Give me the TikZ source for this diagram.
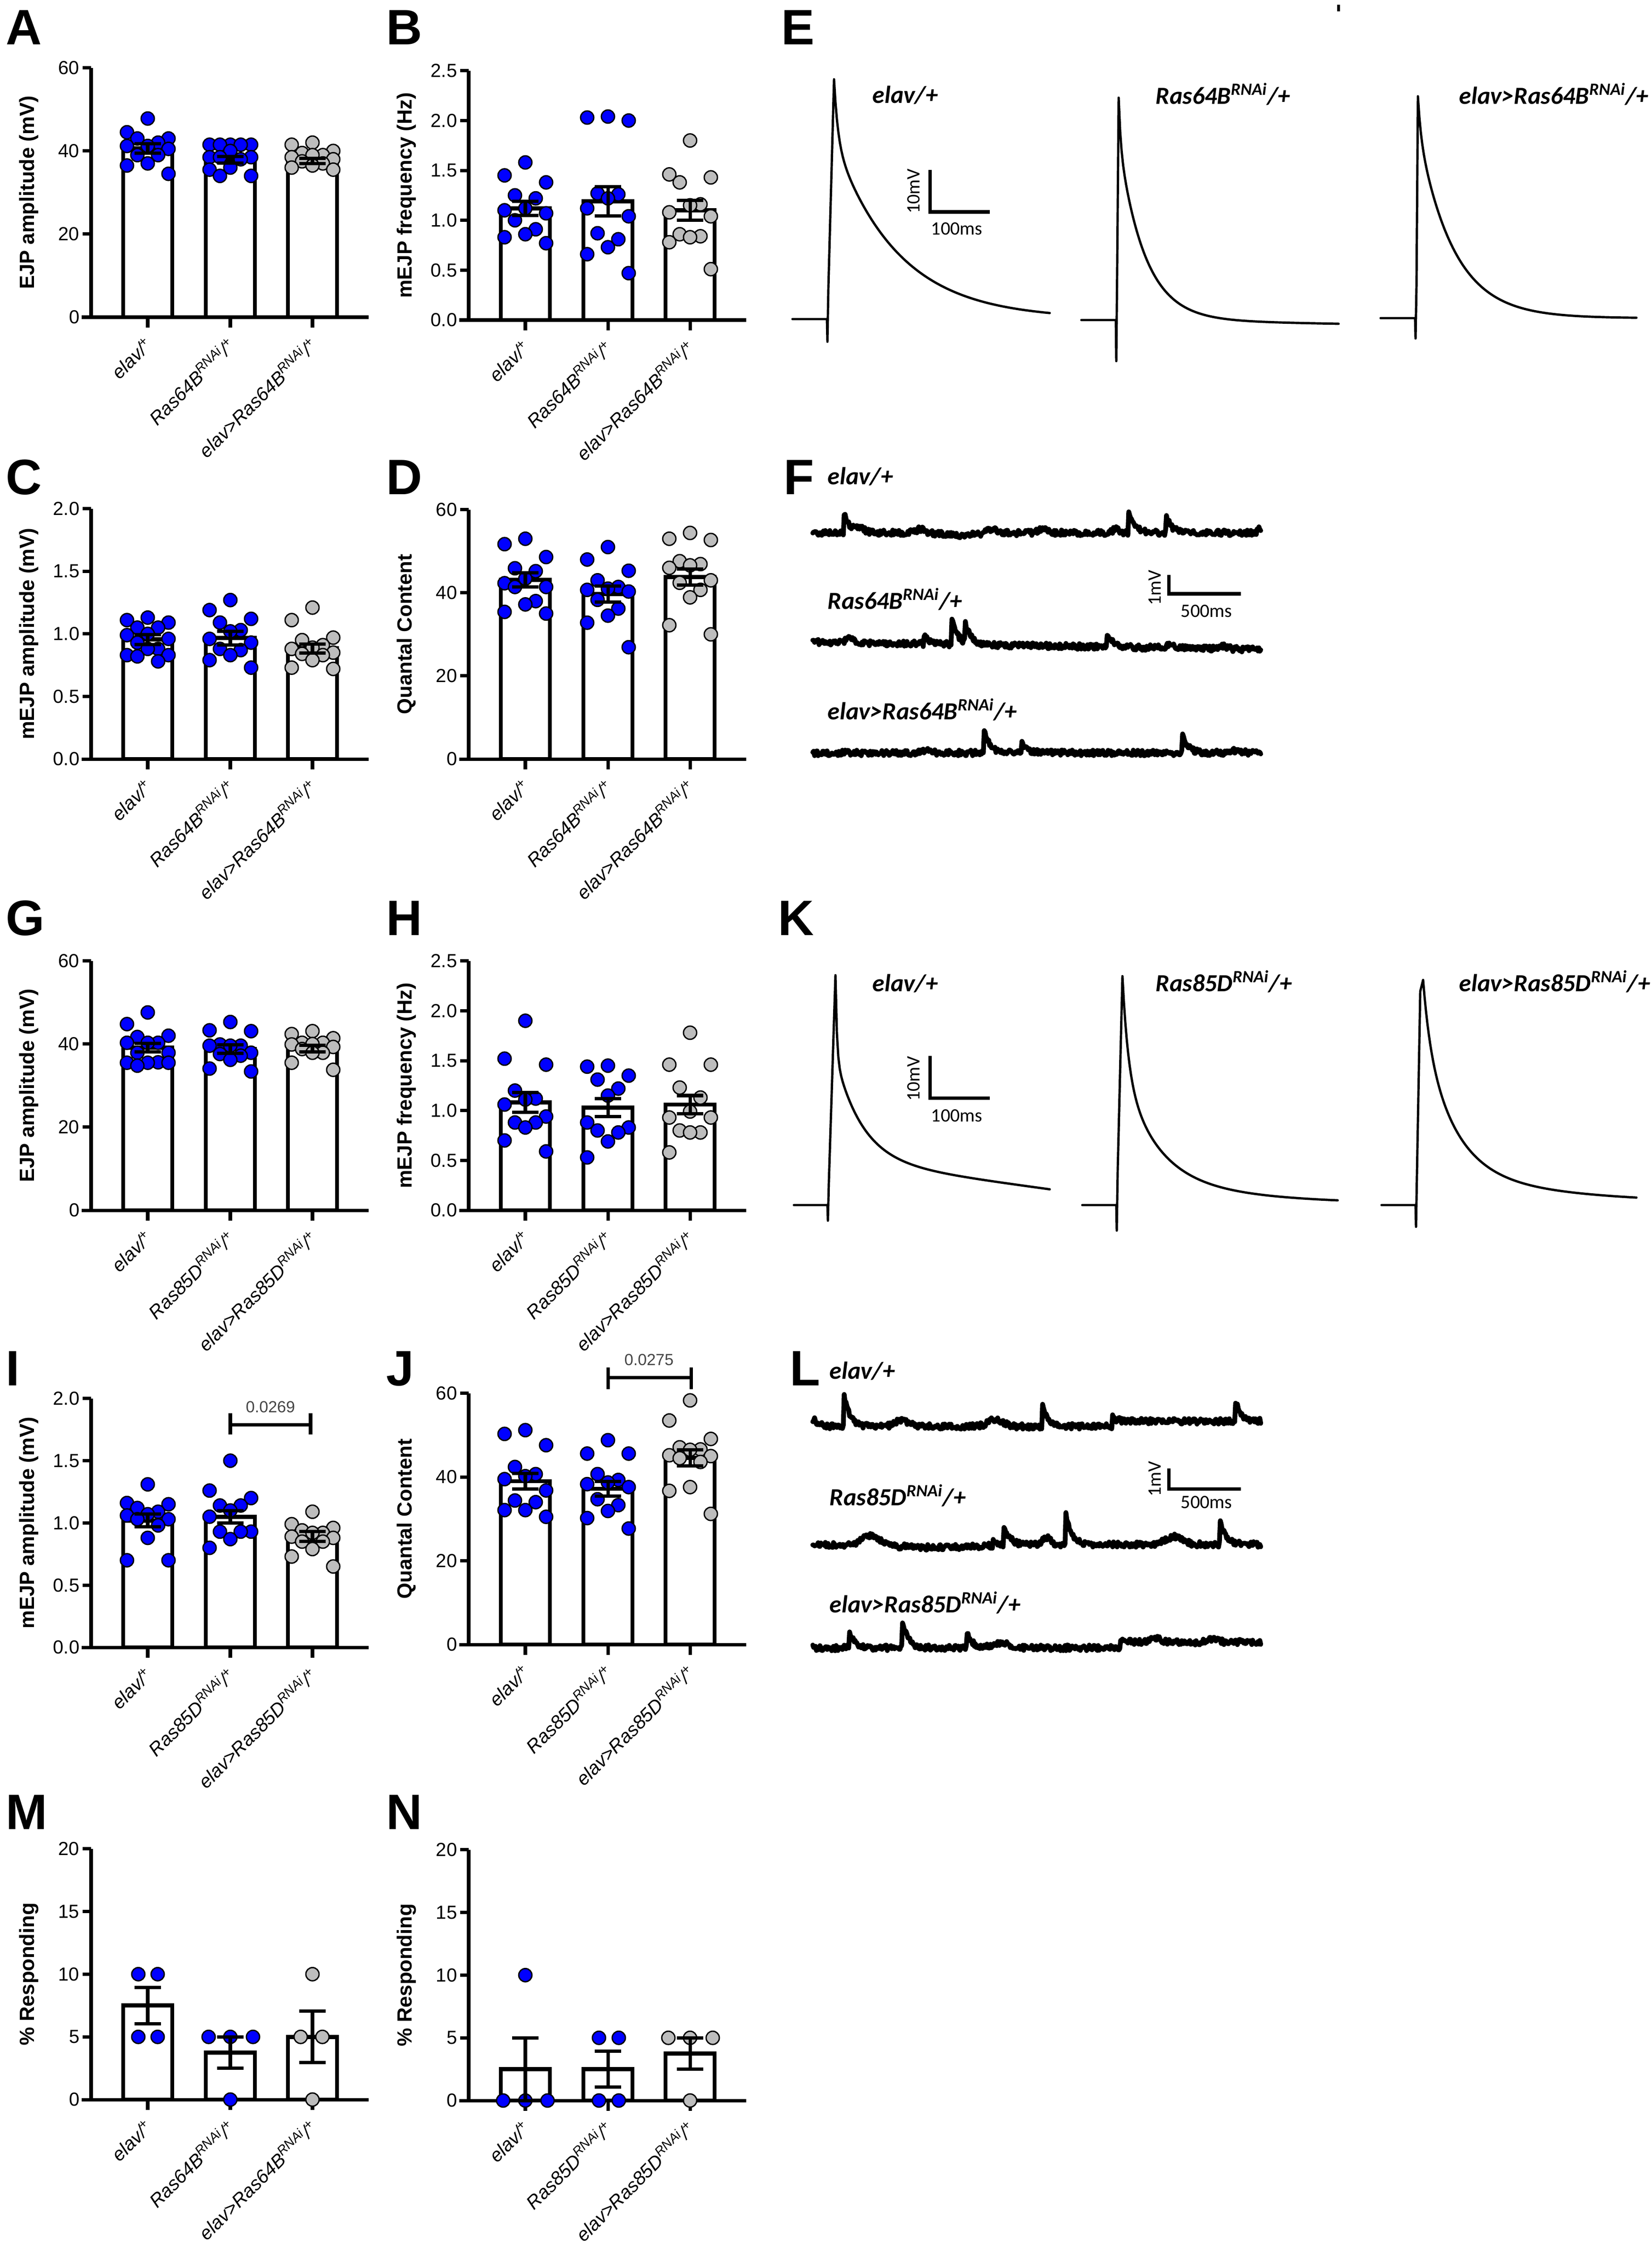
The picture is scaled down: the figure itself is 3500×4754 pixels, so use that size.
\documentclass[tikz,border=0pt]{standalone}
\usepackage{fontspec}
\setmainfont{Liberation Sans}
\newfontfamily\calib{Carlito}
\definecolor{qqqqff}{rgb}{0,0,1}
\definecolor{bcbcbc}{rgb}{0.74,0.74,0.74}
\definecolor{uuuuuu}{rgb}{0.27,0.27,0.27}
\def\swarm{{0,-44,44,-22,22}}
\pgfmathsetseed{11}
\begin{document}
\begin{tikzpicture}[line cap=round,line join=round,x=0.01cm,y=-0.01cm,
	declare function={ev(\q)=(\q>0)*exp(-min(max(\q,0),150)/12); gb(\q,\w)=exp(-min(abs(\q)/\w,3.5)*min(abs(\q)/\w,3.5));},
	axisl/.style={line width=2pt,line cap=butt},
	barl/.style={line width=2.5pt,fill=white,line join=miter},
	errl/.style={line width=2pt,line cap=butt},
	bdot/.style={circle,draw=black,line width=0.8pt,fill=qqqqff,inner sep=0pt,minimum size=0.28cm},
	gdot/.style={bdot,fill=bcbcbc},
	ticklab/.style={anchor=east,inner sep=0pt,font=\fontsize{11.4}{13}\selectfont},
	axtitle/.style={rotate=90,inner sep=0pt,font=\fontsize{12.4}{14}\selectfont\bfseries},
	catlab/.style={yshift=-0.5cm,xshift=0.03cm,rotate=45,anchor=east,inner sep=0pt,font=\fontsize{11.4}{13}\selectfont\itshape},
	panlab/.style={anchor=base west,inner sep=0pt,font=\fontsize{30}{32}\selectfont\bfseries},
	trace/.style={line width=1.4pt},
	noisy/.style={line width=2.9pt},
	scalebar/.style={line width=2pt,line cap=butt,line join=miter},
	tracelab/.style={anchor=base west,inner sep=0pt,font=\calib\fontsize{14.8}{16}\selectfont\bfseries\itshape},
	scalelab/.style={inner sep=0pt,font=\calib\fontsize{11.4}{13}\selectfont},
	pval/.style={inner sep=0pt,text=uuuuuu,font=\fontsize{9.7}{11}\selectfont}]
	\useasboundingbox (0,0) rectangle (3500,4754);
	% panel letters
	\node[panlab] (pA) at (12,94) {A};
	\node[panlab] (pB) at (818,94) {B};
	\node[panlab] (pE) at (1655,94) {E};
	\node[panlab] (pC) at (12,1047) {C};
	\node[panlab] (pD) at (818,1047) {D};
	\node[panlab] (pF) at (1660,1047) {F};
	\node[panlab] (pG) at (12,1981) {G};
	\node[panlab] (pH) at (818,1981) {H};
	\node[panlab] (pK) at (1648,1981) {K};
	\node[panlab] (pI) at (12,2935) {I};
	\node[panlab] (pJ) at (818,2935) {J};
	\node[panlab] (pL) at (1673,2935) {L};
	\node[panlab] (pM) at (12,3875) {M};
	\node[panlab] (pN) at (818,3875) {N};
	% A
	\begin{scope}[shift={(193,672)},y=0.088cm]
	\foreach \c/\m in {120/40.6,295/37.9,469/37.6} \draw[barl] (\c-52,0) rectangle (\c+52,\m);
	\draw[axisl] (0,60) -- (0,0) (-20,0) -- (588,0);
	\foreach \v in {0,20,40,60} {\draw[axisl] (-18,\v) -- (0,\v); \node[ticklab] (a-t\v) at (-24,\v) {\v};}
	\foreach \c in {120,295,469} \draw[axisl] (\c,0) -- ++(0pt,-0.22cm);
	\foreach \v [count=\i] in {47.8,44.5,43,43,42,41.2,41.2,40.5,39,39,37,36.5,34.5} {\pgfmathsetmacro\dx{120+\swarm[int(mod(\i-1,5))]}\node[bdot] (a1-\i) at (\dx,\v) {};}
	\foreach \v [count=\i] in {41.5,41.5,41.5,41.5,41.5,40,38.5,38.5,38.5,38,36,35.5,34,34} {\pgfmathsetmacro\dx{295+\swarm[int(mod(\i-1,5))]}\node[bdot] (a2-\i) at (\dx,\v) {};}
	\foreach \v [count=\i] in {42,41.5,40,39.5,39,39,38.5,38,37.5,37,36.5,36,35.5} {\pgfmathsetmacro\dx{469+\swarm[int(mod(\i-1,5))]}\node[gdot] (a3-\i) at (\dx,\v) {};}
	\foreach \c/\m/\e in {120/40.6/1.1,295/37.9/0.8,469/37.6/0.6} \draw[errl] (\c-28,\m+\e) -- (\c+28,\m+\e) (\c,\m+\e) -- (\c,\m-\e) (\c-28,\m-\e) -- (\c+28,\m-\e);
	\node[axtitle] (a-y) at (-132,30) {EJP amplitude (mV)};
	\node[catlab] (a-c1) at (120,0) {elav/\textsuperscript{+}};
	\node[catlab] (a-c2) at (295,0) {Ras64B\textsuperscript{RNAi}/\textsuperscript{+}};
	\node[catlab] (a-c3) at (469,0) {elav>Ras64B\textsuperscript{RNAi}/\textsuperscript{+}};
	\end{scope}
	% B
	\begin{scope}[shift={(993,678)},y=2.112cm]
	\foreach \c/\m in {120/1.12,295/1.19,469/1.10} \draw[barl] (\c-52,0) rectangle (\c+52,\m);
	\draw[axisl] (0,2.5) -- (0,0) (-20,0) -- (588,0);
	\foreach \v/\l [count=\i] in {0/0.0,0.5/0.5,1/1.0,1.5/1.5,2/2.0,2.5/2.5} {\draw[axisl] (-18,\v) -- (0,\v); \node[ticklab] (b-t\i) at (-24,\v) {\l};}
	\foreach \c in {120,295,469} \draw[axisl] (\c,0) -- ++(0pt,-0.22cm);
	\foreach \v [count=\i] in {1.58,1.45,1.38,1.25,1.22,1.12,1.10,1.07,1.0,0.91,0.86,0.83,0.77} {\pgfmathsetmacro\dx{120+\swarm[int(mod(\i-1,5))]}\node[bdot] (b1-\i) at (\dx,\v) {};}
	\foreach \v [count=\i] in {2.04,2.03,2.0,1.27,1.26,1.22,1.12,1.04,0.87,0.81,0.73,0.66,0.47} {\pgfmathsetmacro\dx{295+\swarm[int(mod(\i-1,5))]}\node[bdot] (b2-\i) at (\dx,\v) {};}
	\foreach \v [count=\i] in {1.80,1.46,1.43,1.38,1.16,1.15,1.08,1.04,0.86,0.84,0.83,0.78,0.51} {\pgfmathsetmacro\dx{469+\swarm[int(mod(\i-1,5))]}\node[gdot] (b3-\i) at (\dx,\v) {};}
	\foreach \c/\m/\e in {120/1.12/0.07,295/1.19/0.145,469/1.10/0.10} \draw[errl] (\c-28,\m+\e) -- (\c+28,\m+\e) (\c,\m+\e) -- (\c,\m-\e) (\c-28,\m-\e) -- (\c+28,\m-\e);
	\node[axtitle] (b-y) at (-132,1.25) {mEJP frequency (Hz)};
	\node[catlab] (b-c1) at (120,0) {elav/\textsuperscript{+}};
	\node[catlab] (b-c2) at (295,0) {Ras64B\textsuperscript{RNAi}/\textsuperscript{+}};
	\node[catlab] (b-c3) at (469,0) {elav>Ras64B\textsuperscript{RNAi}/\textsuperscript{+}};
	\end{scope}
	% C
	\begin{scope}[shift={(193,1608)},y=2.65cm]
	\foreach \c/\m in {120/0.955,295/0.966,469/0.883} \draw[barl] (\c-52,0) rectangle (\c+52,\m);
	\draw[axisl] (0,2) -- (0,0) (-20,0) -- (588,0);
	\foreach \v/\l [count=\i] in {0/0.0,0.5/0.5,1/1.0,1.5/1.5,2/2.0} {\draw[axisl] (-18,\v) -- (0,\v); \node[ticklab] (c-t\i) at (-24,\v) {\l};}
	\foreach \c in {120,295,469} \draw[axisl] (\c,0) -- ++(0pt,-0.22cm);
	\foreach \v [count=\i] in {1.13,1.11,1.09,1.05,1.05,1.0,0.99,0.96,0.93,0.88,0.88,0.83,0.83,0.82,0.78} {\pgfmathsetmacro\dx{120+\swarm[int(mod(\i-1,5))]}\node[bdot] (c1-\i) at (\dx,\v) {};}
	\foreach \v [count=\i] in {1.27,1.19,1.12,1.09,1.03,1.02,0.96,0.93,0.88,0.87,0.83,0.79,0.73} {\pgfmathsetmacro\dx{295+\swarm[int(mod(\i-1,5))]}\node[bdot] (c2-\i) at (\dx,\v) {};}
	\foreach \v [count=\i] in {1.21,1.11,0.97,0.95,0.91,0.89,0.88,0.85,0.84,0.83,0.79,0.73,0.72} {\pgfmathsetmacro\dx{469+\swarm[int(mod(\i-1,5))]}\node[gdot] (c3-\i) at (\dx,\v) {};}
	\foreach \c/\m/\e in {120/0.955/0.04,295/0.966/0.055,469/0.883/0.035} \draw[errl] (\c-28,\m+\e) -- (\c+28,\m+\e) (\c,\m+\e) -- (\c,\m-\e) (\c-28,\m-\e) -- (\c+28,\m-\e);
	\node[axtitle] (c-y) at (-132,1) {mEJP amplitude (mV)};
	\node[catlab] (c-c1) at (120,0) {elav/\textsuperscript{+}};
	\node[catlab] (c-c2) at (295,0) {Ras64B\textsuperscript{RNAi}/\textsuperscript{+}};
	\node[catlab] (c-c3) at (469,0) {elav>Ras64B\textsuperscript{RNAi}/\textsuperscript{+}};
	\end{scope}
	% D
	\begin{scope}[shift={(993,1608)},y=0.088cm]
	\foreach \c/\m in {120/43.1,295/39.7,469/43.8} \draw[barl] (\c-52,0) rectangle (\c+52,\m);
	\draw[axisl] (0,60) -- (0,0) (-20,0) -- (588,0);
	\foreach \v in {0,20,40,60} {\draw[axisl] (-18,\v) -- (0,\v); \node[ticklab] (d-t\v) at (-24,\v) {\v};}
	\foreach \c in {120,295,469} \draw[axisl] (\c,0) -- ++(0pt,-0.22cm);
	\foreach \v [count=\i] in {53,51.7,48.6,45.9,45.2,43.4,42.3,41.4,41.4,38,37.2,35.4,35} {\pgfmathsetmacro\dx{120+\swarm[int(mod(\i-1,5))]}\node[bdot] (d1-\i) at (\dx,\v) {};}
	\foreach \v [count=\i] in {51,48,45.3,43,41.4,41,40.7,40.3,38.3,36.2,34.5,32.8,26.9} {\pgfmathsetmacro\dx{295+\swarm[int(mod(\i-1,5))]}\node[bdot] (d2-\i) at (\dx,\v) {};}
	\foreach \v [count=\i] in {54.4,53,52.7,47.6,46.9,46.6,46,43,42.4,40.7,38.9,32.2,30} {\pgfmathsetmacro\dx{469+\swarm[int(mod(\i-1,5))]}\node[gdot] (d3-\i) at (\dx,\v) {};}
	\foreach \c/\m/\e in {120/43.1/1.7,295/39.7/1.9,469/43.8/1.9} \draw[errl] (\c-28,\m+\e) -- (\c+28,\m+\e) (\c,\m+\e) -- (\c,\m-\e) (\c-28,\m-\e) -- (\c+28,\m-\e);
	\node[axtitle] (d-y) at (-132,30) {Quantal Content};
	\node[catlab] (d-c1) at (120,0) {elav/\textsuperscript{+}};
	\node[catlab] (d-c2) at (295,0) {Ras64B\textsuperscript{RNAi}/\textsuperscript{+}};
	\node[catlab] (d-c3) at (469,0) {elav>Ras64B\textsuperscript{RNAi}/\textsuperscript{+}};
	\end{scope}
	% G
	\begin{scope}[shift={(193,2564)},y=0.088cm]
	\foreach \c/\m in {120/39.1,295/38.8,469/38.9} \draw[barl] (\c-52,0) rectangle (\c+52,\m);
	\draw[axisl] (0,60) -- (0,0) (-20,0) -- (588,0);
	\foreach \v in {0,20,40,60} {\draw[axisl] (-18,\v) -- (0,\v); \node[ticklab] (g-t\v) at (-24,\v) {\v};}
	\foreach \c in {120,295,469} \draw[axisl] (\c,0) -- ++(0pt,-0.22cm);
	\foreach \v [count=\i] in {47.6,44.8,42,41.7,40.3,40.3,40.3,37.9,37.9,35.6,35.5,35.5,35.5,34.8} {\pgfmathsetmacro\dx{120+\swarm[int(mod(\i-1,5))]}\node[bdot] (g1-\i) at (\dx,\v) {};}
	\foreach \v [count=\i] in {45.3,43.3,43.1,39.9,39.6,39.6,39.6,37.9,37.6,37.2,36.2,34.1,33.4} {\pgfmathsetmacro\dx{295+\swarm[int(mod(\i-1,5))]}\node[bdot] (g2-\i) at (\dx,\v) {};}
	\foreach \v [count=\i] in {43.1,42.4,41.4,40.3,40.3,40.0,39.9,39.3,38.8,37.9,37.9,35.5,33.8} {\pgfmathsetmacro\dx{469+\swarm[int(mod(\i-1,5))]}\node[gdot] (g3-\i) at (\dx,\v) {};}
	\foreach \c/\m/\e in {120/39.1/1.0,295/38.8/1.0,469/38.9/0.8} \draw[errl] (\c-28,\m+\e) -- (\c+28,\m+\e) (\c,\m+\e) -- (\c,\m-\e) (\c-28,\m-\e) -- (\c+28,\m-\e);
	\node[axtitle] (g-y) at (-132,30) {EJP amplitude (mV)};
	\node[catlab] (g-c1) at (120,0) {elav/\textsuperscript{+}};
	\node[catlab] (g-c2) at (295,0) {Ras85D\textsuperscript{RNAi}/\textsuperscript{+}};
	\node[catlab] (g-c3) at (469,0) {elav>Ras85D\textsuperscript{RNAi}/\textsuperscript{+}};
	\end{scope}
	% H
	\begin{scope}[shift={(993,2564)},y=2.112cm]
	\foreach \c/\m in {120/1.08,295/1.03,469/1.06} \draw[barl] (\c-52,0) rectangle (\c+52,\m);
	\draw[axisl] (0,2.5) -- (0,0) (-20,0) -- (588,0);
	\foreach \v/\l [count=\i] in {0/0.0,0.5/0.5,1/1.0,1.5/1.5,2/2.0,2.5/2.5} {\draw[axisl] (-18,\v) -- (0,\v); \node[ticklab] (h-t\i) at (-24,\v) {\l};}
	\foreach \c in {120,295,469} \draw[axisl] (\c,0) -- ++(0pt,-0.22cm);
	\foreach \v [count=\i] in {1.90,1.52,1.46,1.20,1.12,1.11,1.06,0.94,0.88,0.88,0.83,0.70,0.59} {\pgfmathsetmacro\dx{120+\swarm[int(mod(\i-1,5))]}\node[bdot] (h1-\i) at (\dx,\v) {};}
	\foreach \v [count=\i] in {1.45,1.44,1.35,1.31,1.22,1.15,0.88,0.83,0.80,0.78,0.69,0.53} {\pgfmathsetmacro\dx{295+\swarm[int(mod(\i-1,5))]}\node[bdot] (h2-\i) at (\dx,\v) {};}
	\foreach \v [count=\i] in {1.78,1.46,1.46,1.23,1.13,0.99,0.93,0.93,0.80,0.78,0.78,0.58} {\pgfmathsetmacro\dx{469+\swarm[int(mod(\i-1,5))]}\node[gdot] (h3-\i) at (\dx,\v) {};}
	\foreach \c/\m/\e in {120/1.08/0.10,295/1.03/0.09,469/1.06/0.09} \draw[errl] (\c-28,\m+\e) -- (\c+28,\m+\e) (\c,\m+\e) -- (\c,\m-\e) (\c-28,\m-\e) -- (\c+28,\m-\e);
	\node[axtitle] (h-y) at (-132,1.25) {mEJP frequency (Hz)};
	\node[catlab] (h-c1) at (120,0) {elav/\textsuperscript{+}};
	\node[catlab] (h-c2) at (295,0) {Ras85D\textsuperscript{RNAi}/\textsuperscript{+}};
	\node[catlab] (h-c3) at (469,0) {elav>Ras85D\textsuperscript{RNAi}/\textsuperscript{+}};
	\end{scope}
	% I
	\begin{scope}[shift={(193,3490)},y=2.635cm]
	\foreach \c/\m in {120/1.02,295/1.05,469/0.89} \draw[barl] (\c-52,0) rectangle (\c+52,\m);
	\draw[axisl] (0,2) -- (0,0) (-20,0) -- (588,0);
	\foreach \v/\l [count=\i] in {0/0.0,0.5/0.5,1/1.0,1.5/1.5,2/2.0} {\draw[axisl] (-18,\v) -- (0,\v); \node[ticklab] (i-t\i) at (-24,\v) {\l};}
	\foreach \c in {120,295,469} \draw[axisl] (\c,0) -- ++(0pt,-0.22cm);
	\foreach \v [count=\i] in {1.31,1.16,1.15,1.12,1.09,1.07,1.06,1.03,1.03,0.98,0.88,0.70,0.70} {\pgfmathsetmacro\dx{120+\swarm[int(mod(\i-1,5))]}\node[bdot] (i1-\i) at (\dx,\v) {};}
	\foreach \v [count=\i] in {1.50,1.26,1.20,1.14,1.14,1.10,1.05,0.93,0.93,0.93,0.87,0.80} {\pgfmathsetmacro\dx{295+\swarm[int(mod(\i-1,5))]}\node[bdot] (i2-\i) at (\dx,\v) {};}
	\foreach \v [count=\i] in {1.09,0.99,0.96,0.94,0.92,0.92,0.89,0.88,0.85,0.85,0.79,0.73,0.65} {\pgfmathsetmacro\dx{469+\swarm[int(mod(\i-1,5))]}\node[gdot] (i3-\i) at (\dx,\v) {};}
	\foreach \c/\m/\e in {120/1.02/0.05,295/1.05/0.05,469/0.89/0.04} \draw[errl] (\c-28,\m+\e) -- (\c+28,\m+\e) (\c,\m+\e) -- (\c,\m-\e) (\c-28,\m-\e) -- (\c+28,\m-\e);
	\node[axtitle] (i-y) at (-132,1) {mEJP amplitude (mV)};
	\node[catlab] (i-c1) at (120,0) {elav/\textsuperscript{+}};
	\node[catlab] (i-c2) at (295,0) {Ras85D\textsuperscript{RNAi}/\textsuperscript{+}};
	\node[catlab] (i-c3) at (469,0) {elav>Ras85D\textsuperscript{RNAi}/\textsuperscript{+}};
	\draw[errl] (295,1.71) -- (295,1.88) (295,1.79) -- (465,1.79) (465,1.71) -- (465,1.88);
	\node[pval] (i-p) at (380,1.93) {0.0269};
	\end{scope}
	% J
	\begin{scope}[shift={(993,3484)},y=0.08867cm]
	\foreach \c/\m in {120/39.0,295/37.2,469/44.6} \draw[barl] (\c-52,0) rectangle (\c+52,\m);
	\draw[axisl] (0,60) -- (0,0) (-20,0) -- (588,0);
	\foreach \v in {0,20,40,60} {\draw[axisl] (-18,\v) -- (0,\v); \node[ticklab] (j-t\v) at (-24,\v) {\v};}
	\foreach \c in {120,295,469} \draw[axisl] (\c,0) -- ++(0pt,-0.22cm);
	\foreach \v [count=\i] in {51.2,50.3,47.6,42.4,40.7,40.2,39.5,36.8,34.4,34,32.1,32.1,30.5} {\pgfmathsetmacro\dx{120+\swarm[int(mod(\i-1,5))]}\node[bdot] (j1-\i) at (\dx,\v) {};}
	\foreach \v [count=\i] in {48.8,45.6,45.6,40.7,39.3,38.7,38.3,37.6,34.7,33.3,31.9,30.2,27.7} {\pgfmathsetmacro\dx{295+\swarm[int(mod(\i-1,5))]}\node[bdot] (j2-\i) at (\dx,\v) {};}
	\foreach \v [count=\i] in {58.3,53.5,49.1,47.1,46.6,46.5,45.2,45,44.5,43.6,37.6,36.7,31.2} {\pgfmathsetmacro\dx{469+\swarm[int(mod(\i-1,5))]}\node[gdot] (j3-\i) at (\dx,\v) {};}
	\foreach \c/\m/\e in {120/39.0/1.9,295/37.2/1.8,469/44.6/1.9} \draw[errl] (\c-28,\m+\e) -- (\c+28,\m+\e) (\c,\m+\e) -- (\c,\m-\e) (\c-28,\m-\e) -- (\c+28,\m-\e);
	\node[axtitle] (j-y) at (-132,30) {Quantal Content};
	\node[catlab] (j-c1) at (120,0) {elav/\textsuperscript{+}};
	\node[catlab] (j-c2) at (295,0) {Ras85D\textsuperscript{RNAi}/\textsuperscript{+}};
	\node[catlab] (j-c3) at (469,0) {elav>Ras85D\textsuperscript{RNAi}/\textsuperscript{+}};
	\draw[errl] (295,61.0) -- (295,66.2) (295,63.7) -- (471,63.7) (471,61.0) -- (471,66.2);
	\node[pval] (j-p) at (382,68.0) {0.0275};
	\end{scope}
	% M
	\begin{scope}[shift={(193,4448)},y=0.2655cm]
	\foreach \c/\m in {120/7.5,295/3.75,469/5.0} \draw[barl] (\c-52,0) rectangle (\c+52,\m);
	\draw[axisl] (0,20) -- (0,0) (-20,0) -- (588,0);
	\foreach \v in {0,5,10,15,20} {\draw[axisl] (-18,\v) -- (0,\v); \node[ticklab] (m-t\v) at (-24,\v) {\v};}
	\foreach \c in {120,295,469} \draw[axisl] (\c,0) -- ++(0pt,-0.22cm);
	\foreach \x/\v [count=\i] in {100/10,141/10,100/5,141/5} \node[bdot] (m1-\i) at (\x,\v) {};
	\foreach \x/\v [count=\i] in {249/5,295/5,343/5,295/0} \node[bdot] (m2-\i) at (\x,\v) {};
	\foreach \x/\v [count=\i] in {469/10,444/5,490/5,469/0} \node[gdot] (m3-\i) at (\x,\v) {};
	\foreach \c/\m/\e in {120/7.5/1.44,295/3.75/1.25,469/5.0/2.05} \draw[errl] (\c-28,\m+\e) -- (\c+28,\m+\e) (\c,\m+\e) -- (\c,\m-\e) (\c-28,\m-\e) -- (\c+28,\m-\e);
	\node[axtitle] (m-y) at (-132,10) {\% Responding};
	\node[catlab] (m-c1) at (120,0) {elav/\textsuperscript{+}};
	\node[catlab] (m-c2) at (295,0) {Ras64B\textsuperscript{RNAi}/\textsuperscript{+}};
	\node[catlab] (m-c3) at (469,0) {elav>Ras64B\textsuperscript{RNAi}/\textsuperscript{+}};
	\end{scope}
	% N
	\begin{scope}[shift={(993,4450)},y=0.2655cm]
	\foreach \c/\m in {120/2.5,295/2.5,469/3.75} \draw[barl] (\c-52,0) rectangle (\c+52,\m);
	\draw[axisl] (0,20) -- (0,0) (-20,0) -- (588,0);
	\foreach \v in {0,5,10,15,20} {\draw[axisl] (-18,\v) -- (0,\v); \node[ticklab] (n-t\v) at (-24,\v) {\v};}
	\foreach \c in {120,295,469} \draw[axisl] (\c,0) -- ++(0pt,-0.22cm);
	\foreach \x/\v [count=\i] in {120/10,73/0,120/0,167/0} \node[bdot] (n1-\i) at (\x,\v) {};
	\foreach \x/\v [count=\i] in {276/5,318/5,276/0,318/0} \node[bdot] (n2-\i) at (\x,\v) {};
	\foreach \x/\v [count=\i] in {423/5,469/5,517/5,469/0} \node[gdot] (n3-\i) at (\x,\v) {};
	\foreach \c/\m/\e in {120/2.5/2.5,295/2.5/1.44,469/3.75/1.25} \draw[errl] (\c-28,\m+\e) -- (\c+28,\m+\e) (\c,\m+\e) -- (\c,\m-\e) (\c-28,\m-\e) -- (\c+28,\m-\e);
	\node[axtitle] (n-y) at (-132,10) {\% Responding};
	\node[catlab] (n-c1) at (120,0) {elav/\textsuperscript{+}};
	\node[catlab] (n-c2) at (295,0) {Ras85D\textsuperscript{RNAi}/\textsuperscript{+}};
	\node[catlab] (n-c3) at (469,0) {elav>Ras85D\textsuperscript{RNAi}/\textsuperscript{+}};
	\end{scope}
	% E
	\fill (2833,10) rectangle (2839,24);
	\draw[trace] (1679,676) -- (1752,676) -- (1753,724) -- (1755,610) -- (1767,168) -- plot[domain=0:457,samples=150] ({1767+\x},{676-380*exp(-\x/135)-128*exp(-min(\x,80)/8)});
	\draw[trace] (2291,678) -- (2364,678) -- (2365,765) -- (2367,559) -- (2370,207) -- plot[domain=0:466,samples=150] ({2370+\x},{678+8*\x/466-380*exp(-\x/55)-91*exp(-min(\x,50)/4)});
	\draw[trace] (2925,674) -- (2998,674) -- (2999,717) -- (3001,607) -- (3004,204) -- plot[domain=0:463,samples=150] ({3004+\x},{674-400*exp(-\x/75)-70*exp(-min(\x,60)/6)});
	\draw[scalebar] (1970,360) -- (1970,449) -- (2097,449);
	\node[scalelab,rotate=90] (e-sv) at (1936,405) {10mV};
	\node[scalelab] (e-sh) at (2027,485) {100ms};
	\node[tracelab] (e-l1) at (1848,218) {elav/+};
	\node[tracelab] (e-l2) at (2448,220) {Ras64B\textsuperscript{RNAi}/+};
	\node[tracelab] (e-l3) at (3091,220) {elav>Ras64B\textsuperscript{RNAi}/+};
	% F
	\draw[noisy] plot[domain=1722:2671,samples=500] (\x,{1129+6*rand+5*gb(\x-2035,45)-47*ev(\x-1787)-50*ev(\x-2390)-38*ev(\x-2470)-8*gb(\x-1822,14)-8*gb(\x-1950,14)-8*gb(\x-2100,14)-9*gb(\x-2212,14)-8*gb(\x-2364,10)-10*gb(\x-2668,5)});
	\draw[noisy] plot[domain=1722:2671,samples=500] (\x,{1360+16*(\x-1722)/949+6*rand-20*ev(\x-1956)-65*ev(\x-2015)-48*ev(\x-2044)-35*ev(\x-2344)-8*gb(\x-1799,12)-6*gb(\x-2480,14)-5*gb(\x-2590,14)});
	\draw[noisy] plot[domain=1722:2671,samples=500] (\x,{1595+6*rand-54*ev(\x-2084)-25*ev(\x-2164)-40*ev(\x-2505)-6*gb(\x-1960,14)-5*gb(\x-2621,14)});
	\draw[scalebar] (2476,1218) -- (2476,1258) -- (2629,1258);
	\node[scalelab,rotate=90] (f-sv) at (2447,1245) {1mV};
	\node[scalelab] (f-sh) at (2556,1295) {500ms};
	\node[tracelab] (f-l1) at (1753,1026) {elav/+};
	\node[tracelab] (f-l2) at (1753,1290) {Ras64B\textsuperscript{RNAi}/+};
	\node[tracelab] (f-l3) at (1753,1524) {elav>Ras64B\textsuperscript{RNAi}/+};
	% K
	\draw[trace] (1682,2553) -- (1753,2553) -- (1754,2586) -- (1756,2505) -- (1770,2066) -- plot[domain=0:454,samples=150] ({1770+\x},{2553-95*(1-\x/700)-219*exp(-\x/57)-173*exp(-min(\x,40)/3)});
	\draw[trace] (2293,2553) -- (2365,2553) -- (2366,2607) -- (2368,2479) -- (2378,2068) -- plot[domain=0:456,samples=150] ({2378+\x},{2553-60*exp(-\x/250)-230*exp(-\x/70)-195*exp(-min(\x,100)/12)});
	\draw[trace] (2927,2553) -- (2999,2553) -- (3000,2599) -- (3002,2487) -- (3009,2100) -- plot[domain=0:452,samples=150] ({3015+\x},{2553-70*exp(-\x/300)-300*exp(-\x/65)-107*exp(-min(\x,100)/14)});
	\draw[scalebar] (1970,2237) -- (1970,2326) -- (2097,2326);
	\node[scalelab,rotate=90] (k-sv) at (1936,2285) {10mV};
	\node[scalelab] (k-sh) at (2027,2364) {100ms};
	\node[tracelab] (k-l1) at (1848,2100) {elav/+};
	\node[tracelab] (k-l2) at (2448,2100) {Ras85D\textsuperscript{RNAi}/+};
	\node[tracelab] (k-l3) at (3091,2100) {elav>Ras85D\textsuperscript{RNAi}/+};
	% L
	\draw[noisy] plot[domain=1722:2671,samples=500] (\x,{3022+6*rand-14*gb(\x-1722,15)-11*(\x>2357)-74*ev(\x-1787)-47*ev(\x-2208)-8*ev(\x-2357)-50*ev(\x-2616)-12*gb(\x-1910,20)-15*gb(\x-2109,22)});
	\draw[noisy] plot[domain=1722:2671,samples=500] (\x,{3272+6*rand+6*gb(\x-1983,120)-20*gb(\x-1845,25)-12*ev(\x-2103)-45*ev(\x-2126)-14*gb(\x-2218,12)-65*ev(\x-2258)-17*gb(\x-2488,25)-52*ev(\x-2585)});
	\draw[noisy] plot[domain=1722:2671,samples=500] (\x,{3491+6*rand-12*(\x>2373)-36*ev(\x-1799)-58*ev(\x-1912)-34*ev(\x-2048)-10*gb(\x-2120,25)-10*ev(\x-2373)-8*gb(\x-2449,15)-6*gb(\x-2572,15)});
	\draw[scalebar] (2476,3111) -- (2476,3154) -- (2629,3154);
	\node[scalelab,rotate=90] (l-sv) at (2447,3133) {1mV};
	\node[scalelab] (l-sh) at (2556,3183) {500ms};
	\node[tracelab] (l-l1) at (1757,2921) {elav/+};
	\node[tracelab] (l-l2) at (1757,3189) {Ras85D\textsuperscript{RNAi}/+};
	\node[tracelab] (l-l3) at (1757,3416) {elav>Ras85D\textsuperscript{RNAi}/+};
\end{tikzpicture}
\end{document}
